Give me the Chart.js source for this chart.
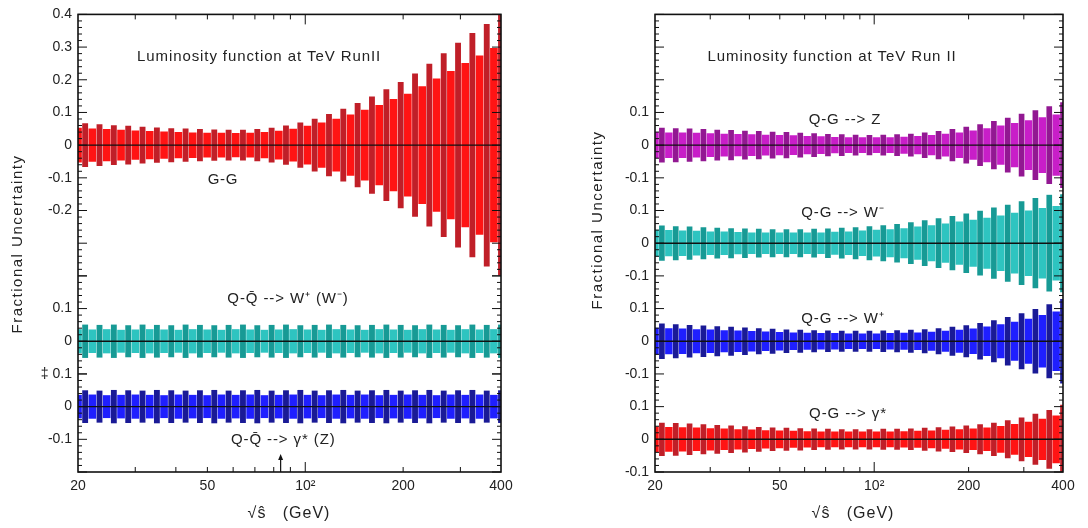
<!DOCTYPE html>
<html>
<head>
<meta charset="utf-8">
<script src="https://cdn.jsdelivr.net/npm/chart.js@4.4.1/dist/chart.umd.min.js"></script>
<style>
  html, body { margin: 0; padding: 0; background: #fff; }
  #wrap { position: relative; width: 1088px; height: 528px; }
  canvas { position: absolute; top: 0; }
  #left { left: 0; }
  #right { left: 560px; }
</style>
</head>
<body>
<div id="wrap">
  <canvas id="left" width="560" height="528"></canvas>
  <canvas id="right" width="528" height="528"></canvas>
</div>
<script>
// sqrt(s-hat) sample points (GeV)
const energies = [20, 21.04, 22.14, 23.29, 24.51, 25.78, 27.13, 28.54, 30.03, 31.59,
  33.24, 34.97, 36.79, 38.71, 40.72, 42.85, 45.08, 47.43, 49.9, 52.5,
  55.24, 58.11, 61.14, 64.33, 67.68, 71.2, 74.91, 78.81, 82.92, 87.24,
  91.78, 96.57, 101.6, 106.9, 112.4, 118.3, 124.5, 130.9, 137.8, 144.9,
  152.5, 160.4, 168.8, 177.6, 186.8, 196.6, 206.8, 217.6, 228.9, 240.8,
  253.4, 266.6, 280.5, 295.1, 310.5, 326.6, 343.7, 361.6, 380.4, 400];

// fractional uncertainty (half width of each error bar)
const ggErr = [.052, .066, .050, .063, .048, .060, .046, .058, .044, .055,
  .042, .053, .041, .051, .039, .050, .038, .048, .037, .047,
  .037, .046, .036, .046, .037, .048, .039, .052, .043, .059,
  .049, .068, .058, .080, .068, .094, .080, .110, .093, .128,
  .107, .148, .122, .170, .140, .192, .156, .218, .179, .248,
  .203, .280, .226, .312, .250, .342, .273, .370, .296, .398];
const qqWErr = [.036, .050, .035, .049, .036, .050, .034, .048, .035, .050,
  .036, .049, .035, .048, .034, .050, .036, .049, .035, .048,
  .034, .049, .036, .050, .035, .048, .034, .049, .035, .050,
  .036, .048, .035, .049, .034, .050, .036, .049, .035, .048,
  .034, .049, .036, .050, .035, .049, .034, .048, .036, .050,
  .035, .049, .034, .048, .036, .050, .035, .049, .036, .050];
const qqGammaErr = [.035, .049, .036, .048, .034, .050, .035, .049, .036, .048,
  .035, .050, .034, .049, .036, .048, .035, .049, .034, .050,
  .036, .048, .035, .049, .036, .050, .034, .048, .035, .049,
  .036, .050, .035, .048, .034, .049, .036, .050, .035, .048,
  .036, .049, .034, .050, .035, .048, .036, .049, .035, .050,
  .034, .048, .036, .049, .035, .050, .036, .048, .035, .049];
const qgZErr = [.039, .052, .038, .051, .038, .050, .037, .048, .035, .046,
  .034, .045, .033, .043, .032, .042, .031, .040, .030, .039,
  .029, .037, .027, .035, .026, .033, .024, .032, .023, .031,
  .023, .030, .023, .031, .023, .032, .025, .034, .027, .038,
  .030, .042, .034, .048, .038, .055, .044, .063, .051, .073,
  .059, .083, .067, .095, .075, .106, .084, .118, .093, .130];
const qgWmErr = [.040, .053, .039, .051, .038, .050, .037, .048, .035, .046,
  .035, .045, .033, .044, .032, .043, .032, .042, .032, .042,
  .032, .042, .032, .043, .032, .044, .034, .046, .035, .048,
  .038, .051, .040, .054, .042, .058, .045, .063, .050, .069,
  .054, .075, .059, .082, .065, .090, .071, .098, .077, .108,
  .084, .117, .092, .127, .099, .137, .107, .147, .113, .155];
const qgWpErr = [.040, .053, .039, .051, .038, .049, .036, .047, .035, .045,
  .033, .043, .032, .041, .030, .039, .029, .037, .027, .035,
  .026, .034, .025, .033, .024, .032, .024, .031, .023, .031,
  .023, .031, .023, .032, .024, .033, .025, .034, .026, .036,
  .028, .039, .031, .043, .034, .048, .038, .055, .044, .063,
  .051, .073, .059, .085, .068, .098, .079, .112, .090, .128];
const qgGammaErr = [.038, .050, .037, .049, .036, .047, .035, .045, .033, .043,
  .032, .041, .030, .039, .029, .037, .027, .035, .026, .034,
  .025, .033, .024, .032, .023, .031, .023, .030, .023, .030,
  .023, .030, .023, .031, .023, .031, .024, .032, .025, .034,
  .026, .036, .028, .038, .030, .041, .032, .045, .035, .050,
  .040, .057, .046, .066, .053, .077, .062, .089, .072, .105];

// axis ticks
const xTickValues = [20, 50, 100, 200, 400];
const xTickLabels = ['20', '50', '10²', '200', '400'];
const xTickMarks = [30, 40, 50, 60, 70, 80, 90, 100, 200, 300];

const ggTicks = [0.4, 0.3, 0.2, 0.1, 0, -0.1, -0.2];
const ggTickLabels = ['0.4', '0.3', '0.2', '0.1', '0', '-0.1', '-0.2'];
const qqWTicks = [0.1, 0];
const qqWTickLabels = ['0.1', '0'];
const qqGammaTicks = [0.1, 0, -0.1];
const qqGammaTickLabels = ['‡ 0.1', '0', '-0.1'];
const qgTicks = [0.1, 0, -0.1];
const qgTickLabels = ['0.1', '0', '-0.1'];

const FONT = "'Liberation Sans', Arial, sans-serif";
const INK = '#222';
const RED = ['#ff1414', '#c01f28'];
const CYAN = ['#2ec4c0', '#179a95'];
const BLUE = ['#1f1fff', '#1a1a96'];
const MAGENTA = ['#c81ec8', '#921892'];

const leftPanel = {
  canvas: 'left', padLeft: 30, padRight: 59, wide: 7.0, thin: 5.2,
  yTitle: [18, 244], xTitle: [289, 514], arrowAt: 84,
  rows: [
    { id: 'gg', min: -0.4, max: 0.4, err: ggErr, colors: RED, ticks: ggTicks, labels: ggTickLabels },
    { id: 'qqW', min: -0.1, max: 0.2, err: qqWErr, colors: CYAN, ticks: qqWTicks, labels: qqWTickLabels },
    { id: 'qqGamma', min: -0.2, max: 0.1, err: qqGammaErr, colors: BLUE, ticks: qqGammaTicks, labels: qqGammaTickLabels }
  ],
  texts: [
    { text: 'Luminosity function at TeV RunII', axis: 'gg', x: 72.1, y: 0.27, size: 15, spacing: 0.9 },
    { text: 'G-G', axis: 'gg', x: 55.8, y: -0.106, size: 15, spacing: 0.6 },
    { text: 'Q-Q\u0304 --> W\u207A (W\u207B)', axis: 'qqW', x: 88.5, y: 0.13, size: 15, spacing: 0.9 },
    { text: 'Q-Q\u0304 --> \u03B3* (Z)', axis: 'qqGamma', x: 85.6, y: -0.103, size: 15, spacing: 0.9 }
  ]
};

const rightPanel = {
  canvas: 'right', padLeft: 47, padRight: 25, wide: 6.8, thin: 5.0,
  yTitle: [38, 220], xTitle: [293, 514], arrowAt: null,
  rows: [
    { id: 'qgZ', min: -0.15, max: 0.4, err: qgZErr, colors: MAGENTA, ticks: qgTicks, labels: qgTickLabels },
    { id: 'qgWm', min: -0.15, max: 0.15, err: qgWmErr, colors: CYAN, ticks: qgTicks, labels: qgTickLabels },
    { id: 'qgWp', min: -0.15, max: 0.15, err: qgWpErr, colors: BLUE, ticks: qgTicks, labels: qgTickLabels },
    { id: 'qgGamma', min: -0.1, max: 0.15, err: qgGammaErr, colors: RED, ticks: qgTicks, labels: qgTickLabels }
  ],
  texts: [
    { text: 'Luminosity function at TeV Run II', axis: 'qgZ', x: 73.4, y: 0.27, size: 15, spacing: 0.9 },
    { text: 'Q-G --> Z', axis: 'qgZ', x: 80.7, y: 0.076, size: 15, spacing: 0.9 },
    { text: 'Q-G --> W\u207B', axis: 'qgWm', x: 79.5, y: 0.094, size: 15, spacing: 0.9 },
    { text: 'Q-G --> W\u207A', axis: 'qgWp', x: 79.5, y: 0.07, size: 15, spacing: 0.9 },
    { text: 'Q-G --> \u03B3*', axis: 'qgGamma', x: 82.5, y: 0.079, size: 15, spacing: 0.9 }
  ]
};

function seg(ctx, x1, y1, x2, y2) {
  ctx.beginPath();
  ctx.moveTo(x1, y1);
  ctx.lineTo(x2, y2);
  ctx.stroke();
}

function bandDatasets(panel, row) {
  const bright = [], dark = [];
  energies.forEach((e, i) => {
    const pt = { x: e, y: [-row.err[i], row.err[i]] };
    (i % 2 === 0 ? bright : dark).push(pt);
  });
  return [
    { data: bright, yAxisID: row.id, backgroundColor: row.colors[0], barThickness: panel.wide, grouped: false, clip: 0 },
    { data: dark, yAxisID: row.id, backgroundColor: row.colors[1], barThickness: panel.thin, grouped: false, clip: 0 }
  ];
}

function decorPlugin(panel) {
  return {
    id: 'decor',
    afterDatasetsDraw(chart) {
      const { ctx, chartArea: a, scales } = chart;
      const xs = scales.x;
      ctx.save();
      ctx.strokeStyle = '#111';
      // zero lines
      ctx.lineWidth = 1.4;
      panel.rows.forEach(r => {
        const y = scales[r.id].getPixelForValue(0);
        seg(ctx, a.left, y, a.right, y);
      });
      // inward ticks on both sides
      ctx.lineWidth = 1;
      panel.rows.forEach(r => {
        const s = scales[r.id];
        const first = Math.ceil(r.min / 0.02 - 1e-6);
        const last = Math.floor(r.max / 0.02 + 1e-6);
        for (let k = first; k <= last; k++) {
          const y = s.getPixelForValue(k * 0.02);
          const len = k % 5 === 0 ? 9 : 4;
          seg(ctx, a.left, y, a.left + len, y);
          seg(ctx, a.right, y, a.right - len, y);
        }
      });
      xTickMarks.forEach(v => {
        const x = xs.getPixelForValue(v);
        const len = v === 100 ? 10 : 5;
        seg(ctx, x, a.bottom, x, a.bottom - len);
        seg(ctx, x, a.top, x, a.top + len);
      });
      ctx.lineWidth = 1.6;
      ctx.strokeRect(a.left, a.top, a.right - a.left, a.bottom - a.top);
      if (panel.arrowAt) {
        const x = xs.getPixelForValue(panel.arrowAt);
        ctx.lineWidth = 1.2;
        seg(ctx, x, a.bottom, x, a.bottom - 15);
        ctx.fillStyle = '#111';
        ctx.beginPath();
        ctx.moveTo(x, a.bottom - 18);
        ctx.lineTo(x - 2.5, a.bottom - 12);
        ctx.lineTo(x + 2.5, a.bottom - 12);
        ctx.closePath();
        ctx.fill();
      }
      ctx.restore();
    },
    afterDraw(chart) {
      const { ctx, scales } = chart;
      ctx.save();
      ctx.fillStyle = INK;
      ctx.textAlign = 'center';
      ctx.textBaseline = 'middle';
      panel.texts.forEach(t => {
        ctx.font = `${t.size}px ${FONT}`;
        ctx.letterSpacing = `${t.spacing}px`;
        ctx.fillText(t.text, scales.x.getPixelForValue(t.x), scales[t.axis].getPixelForValue(t.y));
      });
      ctx.font = `16px ${FONT}`;
      ctx.letterSpacing = '1px';
      ctx.fillText('\u221As\u0302   (GeV)', panel.xTitle[0], panel.xTitle[1]);
      ctx.translate(panel.yTitle[0], panel.yTitle[1]);
      ctx.rotate(-Math.PI / 2);
      ctx.font = `15px ${FONT}`;
      ctx.letterSpacing = '1.5px';
      ctx.fillText('Fractional Uncertainty', 0, 0);
      ctx.restore();
    }
  };
}

function makePanel(panel) {
  const scales = {};
  const n = panel.rows.length;
  // bottom row first so that the top row ends up on top of the stack
  panel.rows.slice().reverse().forEach(r => {
    const idx = panel.rows.indexOf(r);
    scales[r.id] = {
      type: 'linear', position: 'left', stack: 'panel',
      stackWeight: r.max - r.min, weight: n - idx,
      min: r.min, max: r.max,
      grid: { display: false, drawTicks: false },
      border: { display: false },
      afterFit: s => { s.width = 48; },
      afterBuildTicks: s => { s.ticks = r.ticks.map(v => ({ value: v })); },
      ticks: {
        padding: 6, autoSkip: false, color: INK,
        font: { family: FONT, size: 14 },
        callback: v => {
          const i = r.ticks.findIndex(t => Math.abs(t - v) < 1e-9);
          return i < 0 ? '' : r.labels[i];
        }
      }
    };
  });
  scales.x = {
    type: 'logarithmic', min: 20, max: 400,
    grid: { display: false, drawTicks: false },
    border: { display: false },
    afterFit: s => { s.height = 56; },
    afterBuildTicks: s => { s.ticks = xTickValues.map(v => ({ value: v })); },
    ticks: {
      padding: 6, maxRotation: 0, autoSkip: false, color: INK,
      font: { family: FONT, size: 14 },
      callback: v => {
        const i = xTickValues.findIndex(t => Math.abs(t - v) < 1e-6);
        return i < 0 ? '' : xTickLabels[i];
      }
    }
  };

  const datasets = [];
  panel.rows.forEach(r => datasets.push(...bandDatasets(panel, r)));

  new Chart(document.getElementById(panel.canvas).getContext('2d'), {
    type: 'bar',
    data: { datasets },
    options: {
      responsive: false,
      animation: false,
      layout: { padding: { left: panel.padLeft, right: panel.padRight, top: 10, bottom: 0 } },
      plugins: { legend: { display: false }, tooltip: { enabled: false } },
      scales
    },
    plugins: [decorPlugin(panel)]
  });
}

makePanel(leftPanel);
makePanel(rightPanel);
</script>
</body>
</html>
